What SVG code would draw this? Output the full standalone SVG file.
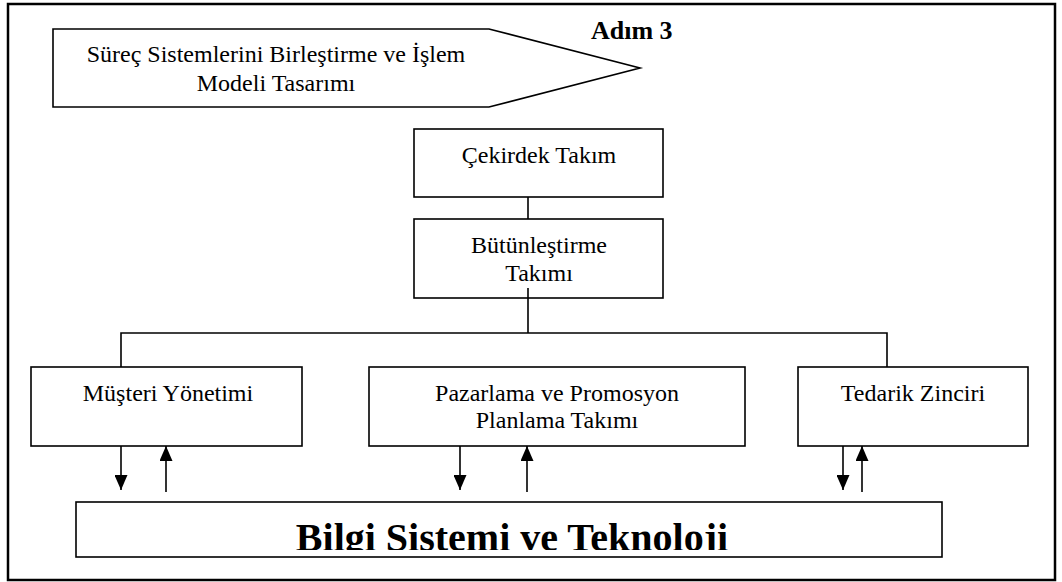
<svg xmlns="http://www.w3.org/2000/svg" width="1062" height="582" viewBox="0 0 1062 582">
<defs>
<style>
.box{fill:#fff;stroke:#000;stroke-width:1.6}
.ln{fill:none;stroke:#000;stroke-width:1.6}
.t{font-family:"Liberation Serif","Times New Roman",serif;font-size:24px;fill:#000;text-anchor:middle}
.b{font-family:"Liberation Serif","Times New Roman",serif;font-weight:bold;fill:#000}
</style>
<marker id="arr" markerUnits="userSpaceOnUse" markerWidth="15" markerHeight="13" refX="15" refY="6.5" orient="auto" viewBox="0 0 15 13">
<path d="M0,0 L15,6.5 L0,13 Z" fill="#000"/>
</marker>
<clipPath id="clipB"><rect x="76" y="502" width="866" height="48"/></clipPath>
</defs>
<rect x="8" y="4" width="1047" height="576" fill="#fff" stroke="#000" stroke-width="2.5"/>
<g id="step">
<path class="box" d="M53,29 H489 L640,68 L489,107 H53 Z"/>
<text class="t" x="276" y="62" font-size="26">Süreç Sistemlerini Birleştirme ve İşlem</text>
<text class="t" x="276" y="91" font-size="26">Modeli Tasarımı</text>
</g>
<g id="adim"><text class="b" x="591" y="39" font-size="26">Adım 3</text></g>
<g id="cekirdek">
<rect class="box" x="414" y="129" width="249" height="68"/>
<text class="t" x="539" y="163">Çekirdek Takım</text>
</g>
<g id="butunlestirme">
<rect class="box" x="414" y="219" width="249" height="79"/>
<text class="t" x="539" y="253">Bütünleştirme</text>
<text class="t" x="539" y="281">Takımı</text>
</g>
<g id="musteri">
<rect class="box" x="31" y="367" width="271" height="79"/>
<text class="t" x="168" y="401">Müşteri Yönetimi</text>
</g>
<g id="pazarlama">
<rect class="box" x="369" y="367" width="376" height="79"/>
<text class="t" x="557" y="401">Pazarlama ve Promosyon</text>
<text class="t" x="557" y="428">Planlama Takımı</text>
</g>
<g id="tedarik">
<rect class="box" x="798" y="367" width="230" height="79"/>
<text class="t" x="913" y="401">Tedarik Zinciri</text>
</g>
<g id="bilgi">
<rect class="box" x="76" y="502" width="866" height="55"/>
<text class="b" x="512" y="551" font-size="40" text-anchor="middle" clip-path="url(#clipB)">Bilgi Sistemi ve Teknoloji</text>
</g>
<g id="connectors">
<path class="ln" d="M528,197 V219 M528,288 V333 M121,367 V333 H887 V367"/>
<path class="ln" d="M121,446 V490" marker-end="url(#arr)"/>
<path class="ln" d="M166,492 V446" marker-end="url(#arr)"/>
<path class="ln" d="M460,446 V490" marker-end="url(#arr)"/>
<path class="ln" d="M527,492 V446" marker-end="url(#arr)"/>
<path class="ln" d="M843,446 V490" marker-end="url(#arr)"/>
<path class="ln" d="M862,492 V446" marker-end="url(#arr)"/>
</g>
</svg>
